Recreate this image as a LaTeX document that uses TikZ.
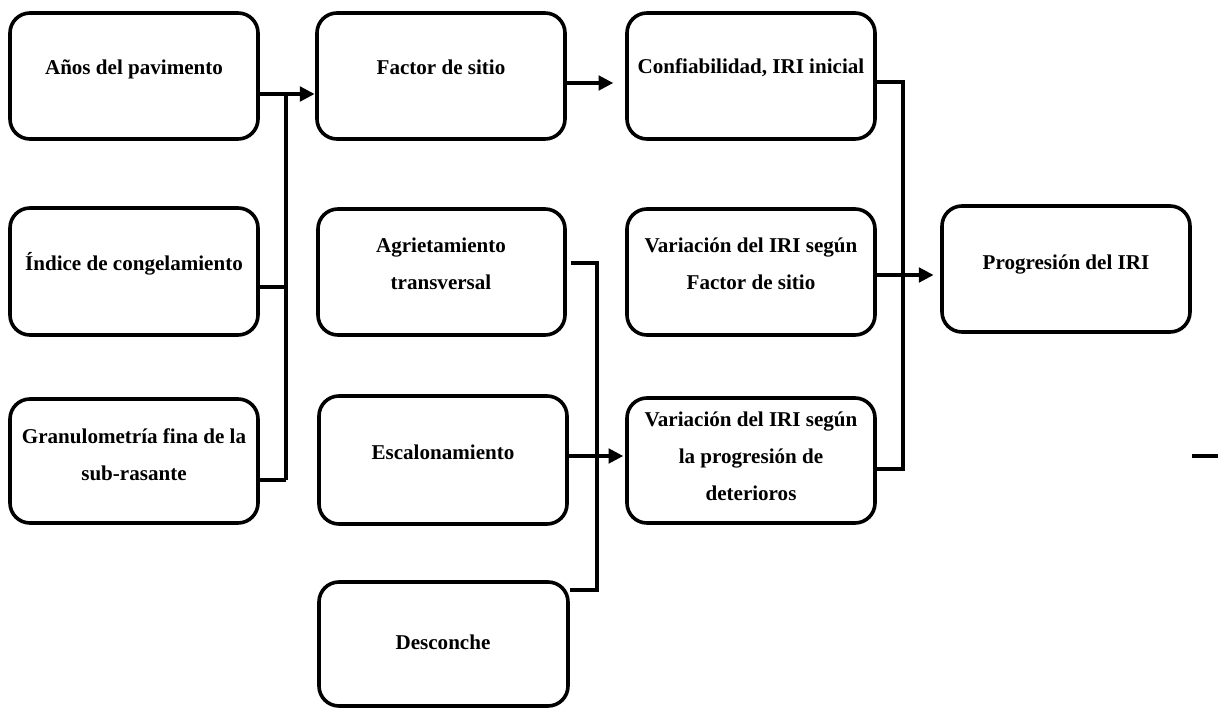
\documentclass[tikz,border=0pt]{standalone}
\usepackage{fontspec}
\setmainfont{Liberation Serif}
\usetikzlibrary{arrows.meta,positioning,fit}
\tikzset{
  box/.style={draw=black, line width=2.7pt, rounded corners=15pt, inner sep=0pt, fit={#1}},
  lbl/.style={anchor=base, align=center, inner sep=0pt,
    font=\fontsize{15.8pt}{27.75pt}\selectfont\bfseries},
  wire/.style={draw=black, line width=2.3pt},
  arr/.style={wire, -{Triangle[length=11pt,width=11pt]}},
}
\begin{document}
\begin{tikzpicture}[x=0.75pt,y=-0.75pt]
\useasboundingbox (0,0) rectangle (1225,709);

% first column: inputs of the site factor
\node[box={(10,13) (258,139)}] (A) {};
\node[box={(10,208) (258,335)}] (B) {};
\node[box={(10,399) (258,523)}] (C) {};
% second column
\node[box={(317,13) (565,139)}] (D) {};
\node[box={(318,209) (565,335)}] (E) {};
\node[box={(319,396) (567,524)}] (F) {};
\node[box={(319,582) (568,706)}] (G) {};
% third column
\node[box={(627,13) (875,139)}] (H) {};
\node[box={(627,209) (875,335)}] (I) {};
\node[box={(627,398) (875,523)}] (J) {};
% result
\node[box={(942,206) (1190,332)}] (K) {};

% labels (anchored on the baseline of the last line)
\node[lbl] (tA) at (134,75) {Años del pavimento};
\node[lbl] (tB) at (134,271) {Índice de congelamiento};
\node[lbl] (tC) at (134,480) {Granulometría fina de la\\sub-rasante};
\node[lbl] (tD) at (441,75) {Factor de sitio};
\node[lbl] (tE) at (441,290) {Agrietamiento\\transversal};
\node[lbl] (tF) at (443,459) {Escalonamiento};
\node[lbl] (tG) at (443,649) {Desconche};
\node[lbl] (tH) at (751,74) {Confiabilidad, IRI inicial};
\node[lbl] (tI) at (751,290) {Variación del IRI según\\Factor de sitio};
\node[lbl] (tJ) at (751,500) {Variación del IRI según\\la progresión de\\deterioros};
\node[lbl] (tK) at (1066,270) {Progresión del IRI};

% junction points of the connectors
\coordinate (bus1top) at (286,94);
\coordinate (bus1mid) at (286,287);
\coordinate (bus1bot) at (286,480);
\coordinate (bus2top) at (903,82);
\coordinate (bus2bot) at (903,469);
\coordinate (bus3top) at (597,263);
\coordinate (bus3bot) at (597,590);
\coordinate (dh) at (0,83);
\coordinate (ik) at (0,275);
\coordinate (fj) at (0,456);
\coordinate (markL) at (1192,456);
\coordinate (markR) at (1218,456);

% site factor inputs
\draw[wire] (A.east |- bus1top) -- (bus1top);
\draw[wire] (B.east |- bus1mid) -- (bus1mid);
\draw[wire] (C.east |- bus1bot) -- (bus1bot);
\draw[wire] (bus1top) -- (bus1bot);
\draw[arr] (bus1top) -- ([xshift=-0.5pt]D.west |- bus1top);

% site factor to reliability
\draw[arr, shorten >=9pt] (D.east |- dh) -- (H.west |- dh);

% distress inputs
\draw[wire] ([xshift=3pt]E.east |- bus3top) -- (bus3top) -- (bus3bot) -- (G.east |- bus3bot);
\draw[arr] (F.east |- fj) -- ([xshift=-1.5pt]J.west |- fj);

% third column to IRI progression
\draw[wire] (H.east |- bus2top) -- (bus2top) -- (bus2bot) -- (J.east |- bus2bot);
\draw[arr, shorten >=5pt] (I.east |- ik) -- (K.west |- ik);

% short mark at the right margin
\draw[line width=3pt] (markL) -- (markR);
\end{tikzpicture}
\end{document}
